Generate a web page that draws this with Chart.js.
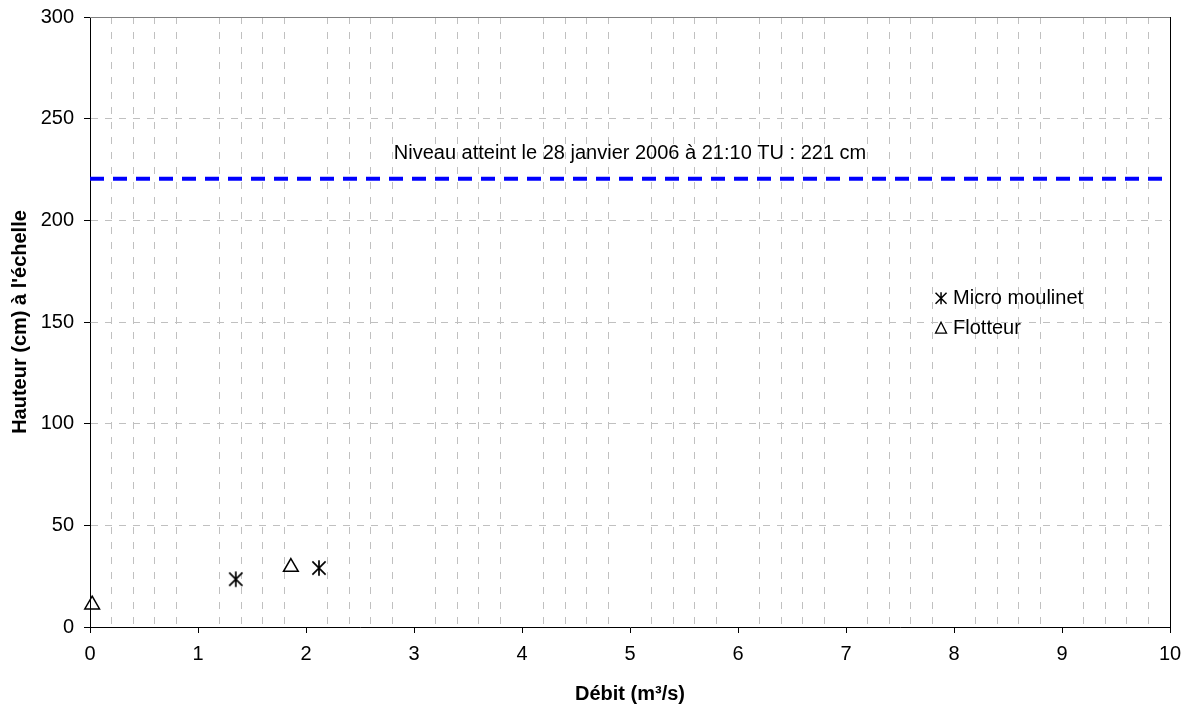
<!DOCTYPE html>
<html><head><meta charset="utf-8">
<script src="https://cdn.jsdelivr.net/npm/chart.js@4/dist/chart.umd.min.js"></script>
<style>html,body{margin:0;padding:0;background:#fff;}</style>
</head><body>
<canvas id="c" width="1192" height="706" style="width:1192px;height:706px;display:block"></canvas>
<script>
// ---- data ----
const seriesNames = ['Micro moulinet', 'Flotteur'];
const microX = [1.35, 2.12];
const microY = [23.5, 29];
const flotX = [0.02, 1.86];
const flotY = [11, 29.5];
const levelValue = 220.5;
const levelXRange = [0, 10];
const levelLabel = 'Niveau atteint le 28 janvier 2006 à 21:10 TU : 221 cm';
const levelLabelAt = [5, 233];
const xTitle = 'Débit (m³/s)';
const yTitle = "Hauteur (cm) à l'échelle";
const xRange = [0, 10];
const xMinorStep = 0.2;
const yRange = [0, 300];
const yStep = 50;

// ---- styles ----
const FONT = '"Liberation Sans", Arial, sans-serif';
const GRID = '#c0c0c0';
const isInt = v => Math.abs(v - Math.round(v)) < 1e-6;

function makeAsterisk(size, lw) {
  const c = document.createElement('canvas');
  c.width = size; c.height = size;
  const g = c.getContext('2d');
  g.strokeStyle = '#000'; g.lineWidth = lw;
  const m = size / 2, a = size / 2 - 1.2;
  g.beginPath();
  g.moveTo(m - a * 0.85, m - a * 0.85); g.lineTo(m + a * 0.85, m + a * 0.85);
  g.moveTo(m + a * 0.85, m - a * 0.85); g.lineTo(m - a * 0.85, m + a * 0.85);
  g.moveTo(m, m - a); g.lineTo(m, m + a);
  g.stroke();
  return c;
}
const asteriskBig = makeAsterisk(18, 1.7);

const toPts = (xs, ys) => xs.map((x, i) => ({ x: x, y: ys[i] }));

const extras = {
  id: 'extras',
  afterDraw(chart) {
    const { ctx, chartArea: a, scales } = chart;
    ctx.save();
    // top (gray) and right (black) frame
    ctx.lineWidth = 1;
    ctx.strokeStyle = '#808080';
    ctx.beginPath();
    ctx.moveTo(a.left, Math.round(a.top) + 0.5);
    ctx.lineTo(a.right, Math.round(a.top) + 0.5);
    ctx.stroke();
    ctx.strokeStyle = '#000';
    ctx.beginPath();
    ctx.moveTo(Math.round(a.right) + 0.5, a.top);
    ctx.lineTo(Math.round(a.right) + 0.5, a.bottom);
    ctx.stroke();
    // annotation
    ctx.fillStyle = '#000';
    ctx.font = '20px ' + FONT;
    ctx.textAlign = 'center';
    ctx.textBaseline = 'middle';
    ctx.fillText(levelLabel, scales.x.getPixelForValue(levelLabelAt[0]), scales.y.getPixelForValue(levelLabelAt[1]));
    // legend
    const lx = a.left + a.width * 0.788;
    const ly1 = a.top + a.height * 0.461;
    const ly2 = ly1 + 30;
    ctx.strokeStyle = '#000';
    ctx.lineWidth = 1.5;
    // asterisk
    const s = 5.5;
    ctx.beginPath();
    ctx.moveTo(lx - s, ly1 - s); ctx.lineTo(lx + s, ly1 + s);
    ctx.moveTo(lx + s, ly1 - s); ctx.lineTo(lx - s, ly1 + s);
    ctx.moveTo(lx, ly1 - s - 0.5); ctx.lineTo(lx, ly1 + s + 0.5);
    ctx.stroke();
    // triangle
    ctx.lineWidth = 1.3;
    ctx.beginPath();
    ctx.moveTo(lx, ly2 - 6);
    ctx.lineTo(lx + 5.5, ly2 + 5);
    ctx.lineTo(lx - 5.5, ly2 + 5);
    ctx.closePath();
    ctx.stroke();
    ctx.textAlign = 'left';
    ctx.fillText(seriesNames[0], lx + 12, ly1);
    ctx.fillText(seriesNames[1], lx + 12, ly2);
    ctx.restore();
  }
};

Chart.defaults.color = '#000';
Chart.defaults.font.family = FONT;
Chart.defaults.font.size = 20;

new Chart(document.getElementById('c'), {
  type: 'scatter',
  data: {
    datasets: [
      {
        label: seriesNames[0],
        data: toPts(microX, microY),
        pointStyle: asteriskBig,
        pointRadius: 9,
        borderColor: '#000',
        backgroundColor: 'transparent',
        clip: false
      },
      {
        label: seriesNames[1],
        data: toPts(flotX, flotY),
        pointStyle: 'triangle',
        pointRadius: 8.5,
        borderWidth: 1.5,
        borderColor: '#000',
        backgroundColor: 'rgba(0,0,0,0)',
        clip: false
      },
      {
        type: 'line',
        label: 'niveau',
        data: levelXRange.map(x => ({ x: x, y: levelValue })),
        borderColor: '#0000ff',
        borderWidth: 4,
        borderDash: [14, 9],
        pointRadius: 0,
        fill: false
      }
    ]
  },
  options: {
    responsive: false,
    animation: false,
    devicePixelRatio: 1,
    layout: { padding: { top: 17, right: 22, bottom: 0, left: 0 } },
    plugins: { legend: { display: false }, tooltip: { enabled: false } },
    scales: {
      x: {
        type: 'linear',
        min: xRange[0], max: xRange[1],
        afterFit: s => { s.height = 79; s.paddingLeft = 0; s.paddingRight = 0; },
        ticks: {
          stepSize: xMinorStep,
          maxTicksLimit: 200,
          autoSkip: false,
          maxRotation: 0,
          padding: 9,
          color: '#000',
          font: { size: 20 },
          callback: v => isInt(v) ? String(Math.round(v)) : ''
        },
        grid: {
          color: c => (c.tick && !isInt(c.tick.value)) ? GRID : 'rgba(0,0,0,0)',
          tickColor: c => (c.tick && isInt(c.tick.value)) ? '#000' : 'rgba(0,0,0,0)',
          tickLength: 6,
          tickBorderDash: [],
          lineWidth: 1
        },
        border: { display: true, color: '#000', width: 1, dash: [7, 8] },
        title: {
          display: true, text: xTitle, color: '#000',
          font: { size: 20, weight: 'bold' },
          padding: { top: 5, bottom: 0 }
        }
      },
      y: {
        type: 'linear',
        min: yRange[0], max: yRange[1],
        afterFit: s => { s.width = 90; s.paddingTop = 0; s.paddingBottom = 0; },
        ticks: {
          stepSize: yStep,
          padding: 10,
          color: '#000',
          font: { size: 20 }
        },
        grid: {
          color: c => (c.tick && c.tick.value > yRange[0] && c.tick.value < yRange[1]) ? GRID : 'rgba(0,0,0,0)',
          tickColor: '#000',
          tickLength: 6,
          tickBorderDash: [],
          lineWidth: 1
        },
        border: { display: true, color: '#000', width: 1, dash: [7, 7] },
        title: {
          display: true, text: yTitle, color: '#000',
          font: { size: 20, weight: 'bold' },
          padding: { top: 8, bottom: 0 }
        }
      }
    }
  },
  plugins: [extras]
});
</script>
</body></html>
